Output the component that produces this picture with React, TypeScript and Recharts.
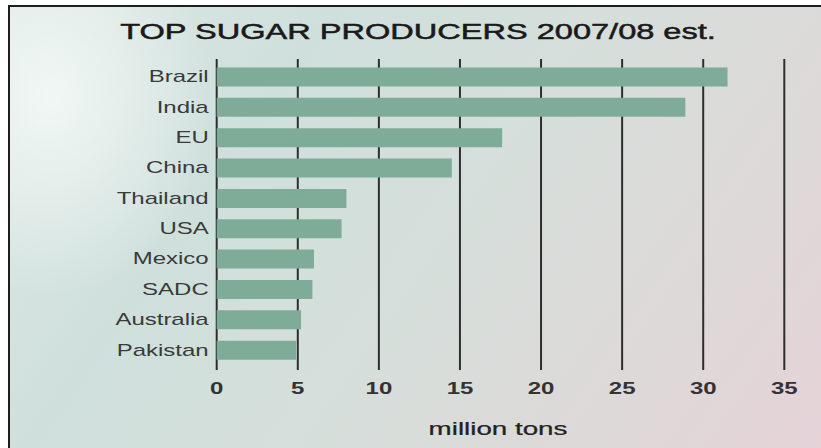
import React from 'react';
import { BarChart, Bar, XAxis, YAxis, CartesianGrid } from 'recharts';

const countries = ['Brazil', 'India', 'EU', 'China', 'Thailand', 'USA', 'Mexico', 'SADC', 'Australia', 'Pakistan'];
const production = [31.5, 28.9, 17.6, 14.5, 8.0, 7.7, 6.0, 5.9, 5.2, 4.9];
const xTicks = [0, 5, 10, 15, 20, 25, 30, 35];
const titleText = 'TOP SUGAR PRODUCERS 2007/08 est.';
const axisLabel = 'million tons';

const data = countries.map((name, i) => ({ name, value: production[i] }));

const FONT = '"Liberation Sans", Arial, Helvetica, sans-serif';
const STRETCH = 1.5;

const XTick = (props: any) => {
  const { x, y, payload } = props;
  return (
    <g transform={`translate(${x},${y + 16.3})`}>
      <text
        transform={`scale(${STRETCH},1)`}
        textAnchor="middle"
        fontFamily={FONT}
        fontSize={16}
        fontWeight="bold"
        fill="#333"
      >
        {payload.value}
      </text>
    </g>
  );
};

const YTick = (props: any) => {
  const { x, y, payload } = props;
  return (
    <g transform={`translate(${x},${y + 5.7})`}>
      <text
        transform={`scale(${STRETCH},1)`}
        textAnchor="end"
        fontFamily={FONT}
        fontSize={16}
        fill="#3a3a3a"
      >
        {payload.value}
      </text>
    </g>
  );
};

export default function App() {
  return (
    <div style={{ position: 'absolute', left: 0, top: 0, width: 821, height: 448, background: '#fff', overflow: 'hidden' }}>
      <div
        style={{
          position: 'absolute',
          left: 8,
          top: 5,
          width: 830,
          height: 460,
          borderTop: '2px solid #1e1e1e',
          borderLeft: '2px solid #1e1e1e',
          background:
            'radial-gradient(ellipse 160px 200px at 40px 90px, rgba(245,250,248,0.85), rgba(245,250,248,0) 100%), linear-gradient(125deg, #dde8e5 0%, #cfe0dc 28%, #d5dfdb 50%, #dcdad9 72%, #e6d2d8 100%)',
        }}
      />
      <div style={{ position: 'absolute', left: 0, top: 0 }}>
        <BarChart
          width={821}
          height={448}
          data={data}
          layout="vertical"
          margin={{ top: 59, right: 36.7, bottom: 38, left: 0 }}
        >
          <CartesianGrid horizontal={false} stroke="#2e2e2e" strokeWidth={2} />
          <XAxis
            type="number"
            domain={[0, 35]}
            ticks={xTicks}
            axisLine={false}
            tickLine={false}
            height={40}
            tick={<XTick />}
            interval={0}
          />
          <YAxis
            type="category"
            dataKey="name"
            width={216.7}
            axisLine={false}
            tickLine={false}
            padding={{ top: 2.5, bottom: 5 }}
            tick={<YTick />}
            interval={0}
          />
          <Bar dataKey="value" fill="#7fac99" barSize={19} isAnimationActive={false} />
        </BarChart>
      </div>
      <svg width={821} height={448} style={{ position: 'absolute', left: 0, top: 0, pointerEvents: 'none' }}>
        <g transform="translate(418,38.7)">
          <text
            transform={`scale(${STRETCH},1)`}
            textAnchor="middle"
            fontFamily={FONT}
            fontSize={21.7}
            fill="#1a1a1a"
            stroke="#1a1a1a"
            strokeWidth={0.5}
          >
            {titleText}
          </text>
        </g>
        <g transform="translate(498,435)">
          <text
            transform={`scale(${STRETCH},1)`}
            textAnchor="middle"
            fontFamily={FONT}
            fontSize={18.5}
            fill="#222"
            stroke="#222"
            strokeWidth={0.25}
          >
            {axisLabel}
          </text>
        </g>
      </svg>
    </div>
  );
}
